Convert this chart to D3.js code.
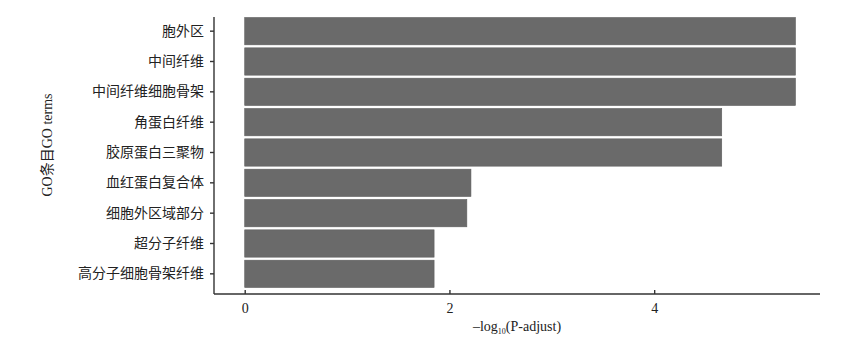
<!DOCTYPE html>
<html>
<head>
<meta charset="utf-8">
<script src="https://cdn.jsdelivr.net/npm/d3@7"></script>
<style>
  body { margin: 0; background: #fff; }
  text { font-family: "Liberation Serif", "Noto Sans CJK SC", serif; fill: #222; }
</style>
</head>
<body>
<div id="container"></div>
<script>
const terms = ["胞外区", "中间纤维", "中间纤维细胞骨架", "角蛋白纤维", "胶原蛋白三聚物",
  "血红蛋白复合体", "细胞外区域部分", "超分子纤维", "高分子细胞骨架纤维"];
const values = [5.38, 5.38, 5.38, 4.66, 4.66, 2.21, 2.17, 1.85, 1.85];
const xTicks = [0, 2, 4];

const margin = { top: 16, right: 47, bottom: 58, left: 214 };
const width = 867 - margin.left - margin.right;
const height = 352 - margin.top - margin.bottom;

const svg = d3.select("#container").append("svg")
  .attr("width", 867)
  .attr("height", 352);

const g = svg.append("g")
  .attr("transform", `translate(${margin.left},${margin.top})`);

const x = d3.scaleLinear()
  .domain([-0.3, 5.62])
  .range([0, width]);

const y = d3.scaleBand()
  .domain(terms)
  .range([0, 273])
  .paddingInner(0.1)
  .paddingOuter(0.05);

// bars
g.selectAll("rect.bar")
  .data(terms)
  .enter()
  .append("rect")
  .attr("class", "bar")
  .attr("x", x(0))
  .attr("y", d => y(d))
  .attr("width", (d, i) => x(values[i]) - x(0))
  .attr("height", y.bandwidth())
  .style("fill", "#6a6a6a")
  .style("stroke", "#5e5e5e")
  .style("stroke-width", 0.6);

// y axis
const yAxis = g.append("g")
  .call(d3.axisLeft(y).tickSize(4).tickPadding(6));
yAxis.select(".domain").attr("d", `M0,1V${height}`);
yAxis.selectAll("text").style("font-size", "14px");

// x axis
const xAxis = g.append("g")
  .attr("transform", `translate(0,${height})`)
  .call(d3.axisBottom(x).tickValues(xTicks).tickFormat(d3.format("d")).tickSize(-4).tickPadding(9));
xAxis.select(".domain").attr("d", `M0,0H${width}`);
xAxis.selectAll("text").style("font-size", "14px");

svg.selectAll(".domain, .tick line")
  .attr("stroke", "#333")
  .attr("stroke-width", 1.4);

// axis titles
const xt = svg.append("text")
  .attr("x", 517)
  .attr("y", 331)
  .attr("text-anchor", "middle")
  .style("font-size", "14px");
xt.append("tspan").text("–log");
xt.append("tspan").attr("dy", 3).style("font-size", "8px").text("10");
xt.append("tspan").attr("dy", -3).text("(P-adjust)");

svg.append("text")
  .attr("transform", "translate(52,145) rotate(-90)")
  .attr("text-anchor", "middle")
  .style("font-size", "14px")
  .text("GO条目GO terms");
</script>
</body>
</html>
